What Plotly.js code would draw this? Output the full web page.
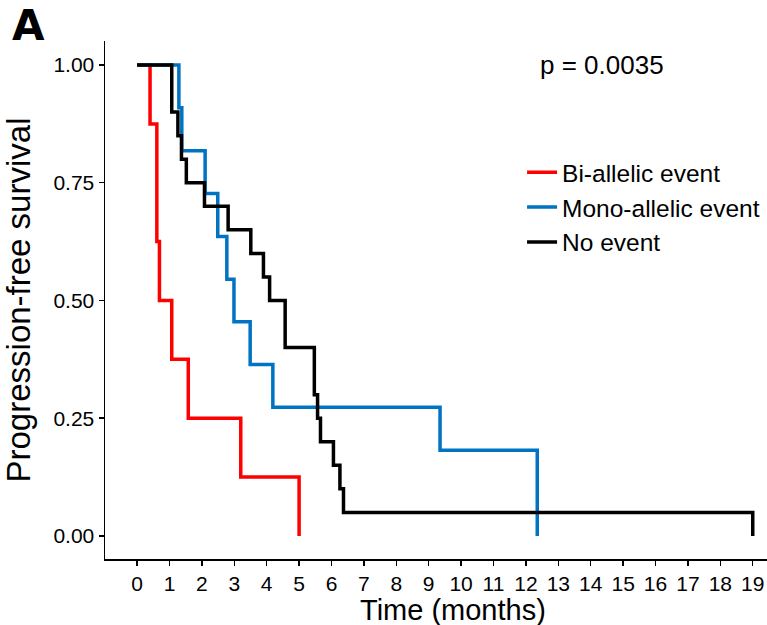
<!DOCTYPE html>
<html>
<head>
<meta charset="utf-8">
<script src="https://cdn.plot.ly/plotly-3.0.1.min.js"></script>
<style>html,body{margin:0;padding:0;background:#fff;}#chart{width:767px;height:625px;}</style>
</head>
<body>
<div id="chart"></div>
<script>
// Kaplan-Meier step data (time in months, survival probability)
const seriesNames = ["Bi-allelic event", "Mono-allelic event", "No event"];
const seriesColors = ["#FF0000", "#0073C2", "#000000"];

const biTime = [0, 0.40, 0.61, 0.69, 1.07, 1.58, 3.20, 5.00];
const biSurv = [1, 0.875, 0.625, 0.5, 0.375, 0.25, 0.125, 0];

const monoTime = [0, 1.29, 1.38, 2.10, 2.49, 2.77, 2.99, 3.49, 4.19, 9.35, 12.35];
const monoSurv = [1, 0.909, 0.818, 0.727, 0.636, 0.545, 0.455, 0.364, 0.273, 0.182, 0];

const noTime = [0, 1.07, 1.26, 1.37, 1.52, 2.08, 2.81, 3.51, 3.90, 4.09, 4.57, 5.47, 5.57, 5.66, 6.06, 6.26, 6.37, 19];
const noSurv = [1, 0.9, 0.85, 0.8, 0.75, 0.7, 0.65, 0.6, 0.55, 0.5, 0.4, 0.3, 0.25, 0.2, 0.15, 0.1, 0.05, 0];

const xTicks = [0,1,2,3,4,5,6,7,8,9,10,11,12,13,14,15,16,17,18,19];
const yTicks = [0, 0.25, 0.5, 0.75, 1];
const yTickText = ["0.00", "0.25", "0.50", "0.75", "1.00"];

const pValueText = "p = 0.0035";
const pValueX = 14.35, pValueY = 1.0;

const allTimes = [biTime, monoTime, noTime];
const allSurv = [biSurv, monoSurv, noSurv];

const traces = seriesNames.map((name, i) => ({
  type: "scatter",
  mode: "lines",
  name: name,
  legendgroup: "g" + i,
  x: allTimes[i],
  y: allSurv[i],
  line: {shape: "hv", color: seriesColors[i], width: 3.5},
  hoverinfo: "skip"
}));

const FONT = "Liberation Sans, Arial, sans-serif";

const layout = {
  width: 767,
  height: 625,
  margin: {l: 105, r: 0, t: 41, b: 66, pad: 0},
  paper_bgcolor: "#ffffff",
  plot_bgcolor: "#ffffff",
  font: {family: FONT, color: "#000000"},
  showlegend: true,
  legend: {
    x: 0.63, y: 0.79, xanchor: "left", yanchor: "top",
    font: {family: FONT, size: 24.5, color: "#000000"},
    bgcolor: "rgba(0,0,0,0)",
    tracegroupgap: 0,
    traceorder: "grouped"
  },
  xaxis: {
    range: [-0.99, 19.44],
    tickmode: "array",
    tickvals: xTicks,
    ticktext: xTicks.map(String),
    showline: true, linecolor: "#000000", linewidth: 1.5,
    ticks: "outside", ticklen: 5, tickwidth: 1.5, tickcolor: "#000000",
    tickfont: {family: FONT, size: 21, color: "#000000"},
    showgrid: false, zeroline: false
  },
  yaxis: {
    range: [-0.049, 1.051],
    tickmode: "array",
    tickvals: yTicks,
    ticktext: yTickText,
    showline: true, linecolor: "#000000", linewidth: 1.5,
    ticks: "outside", ticklen: 5, tickwidth: 1.5, tickcolor: "#000000",
    tickfont: {family: FONT, size: 21, color: "#000000"},
    showgrid: false, zeroline: false,
    title: {text: "Progression-free survival", font: {family: FONT, size: 33, color: "#000000"}, standoff: 16}
  },
  annotations: [
    {
      text: pValueText, x: pValueX, y: pValueY, xref: "x", yref: "y",
      showarrow: false, xanchor: "center", yanchor: "middle",
      font: {family: FONT, size: 26, color: "#000000"}
    },
    {
      text: "Time (months)", x: 0.5257, y: -0.098, xref: "paper", yref: "paper",
      showarrow: false, xanchor: "center", yanchor: "middle",
      font: {family: FONT, size: 29, color: "#000000"}
    },
    {
      text: "<b>A</b>", x: -0.143, y: 1.082, xref: "paper", yref: "paper",
      showarrow: false, xanchor: "left", yanchor: "top",
      font: {family: "DejaVu Sans, Arial, sans-serif", size: 42, color: "#000000"}
    }
  ]
};

Plotly.newPlot("chart", traces, layout, {staticPlot: true, displayModeBar: false});
</script>
</body>
</html>
